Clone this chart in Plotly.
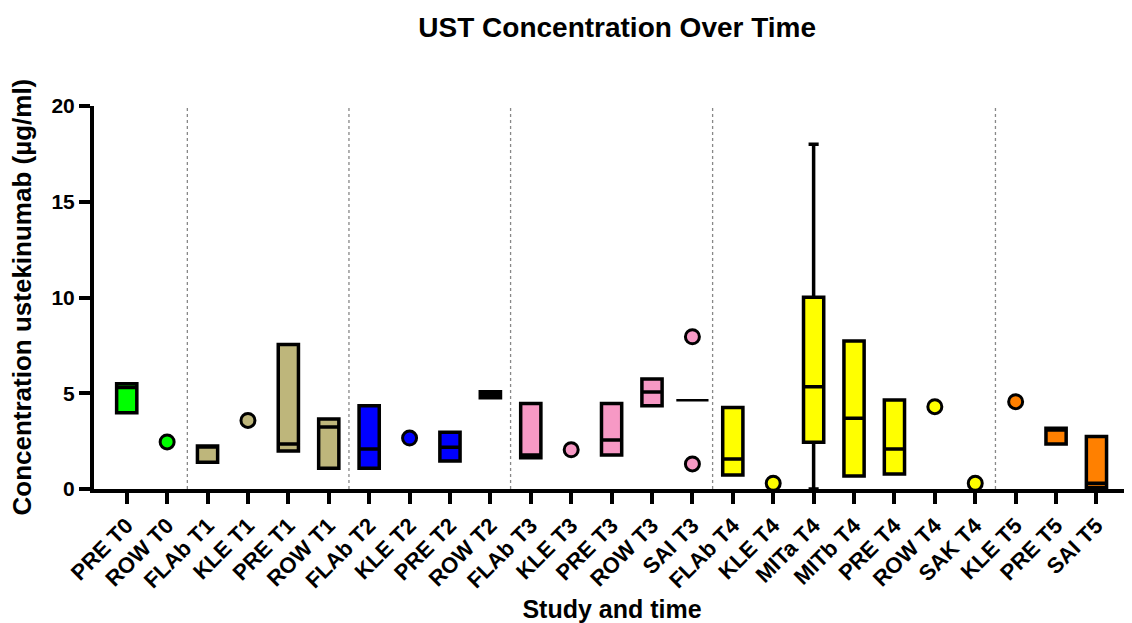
import plotly.graph_objects as go

# ---------------- data ----------------
categories = ["PRE T0", "ROW T0", "FLAb T1", "KLE T1", "PRE T1", "ROW T1",
              "FLAb T2", "KLE T2", "PRE T2", "ROW T2", "FLAb T3", "KLE T3",
              "PRE T3", "ROW T3", "SAI T3", "FLAb T4", "KLE T4", "MITa T4",
              "MITb T4", "PRE T4", "ROW T4", "SAK T4", "KLE T5", "PRE T5", "SAI T5"]

time_colors = {"T0": "#00FF00", "T1": "#BEB67B", "T2": "#0000FF",
               "T3": "#F799C5", "T4": "#FFFF00", "T5": "#FF8000"}

box_cats = ["PRE T0", "FLAb T1", "PRE T1", "ROW T1", "FLAb T2", "PRE T2", "ROW T2",
            "FLAb T3", "PRE T3", "ROW T3", "FLAb T4", "MITa T4", "MITb T4", "PRE T4",
            "PRE T5", "SAI T5"]
box_min    = [3.98, 1.40, 1.98, 1.08, 1.08, 1.46, 4.76, 1.63, 1.78, 4.35, 0.73, 0.00, 0.68, 0.78, 2.35, 0.08]
box_q1     = [3.98, 1.40, 1.98, 1.08, 1.08, 1.46, 4.76, 1.63, 1.78, 4.35, 0.73, 2.44, 0.68, 0.78, 2.35, 0.08]
box_median = [5.30, 2.25, 2.35, 3.24, 2.09, 2.18, 4.92, 1.78, 2.56, 5.07, 1.57, 5.34, 3.69, 2.09, 3.08, 0.30]
box_q3     = [5.49, 2.25, 7.55, 3.65, 4.35, 2.96, 5.08, 4.47, 4.47, 5.74, 4.25, 10.01, 7.73, 4.65, 3.17, 2.74]
box_max    = [5.49, 2.25, 7.55, 3.65, 4.35, 2.96, 5.08, 4.47, 4.47, 5.74, 4.25, 18.00, 7.73, 4.65, 3.17, 2.74]

point_cats = ["ROW T0", "KLE T1", "KLE T2", "KLE T3", "SAI T3", "SAI T3",
              "KLE T4", "ROW T4", "SAK T4", "KLE T5"]
point_vals = [2.46, 3.58, 2.66, 2.05, 7.95, 1.31, 0.30, 4.30, 0.30, 4.56]

median_line_cats = ["SAI T3"]
median_line_vals = [4.63]

title_text = "UST Concentration Over Time"
x_title = "Study and time"
y_title = "Concentration ustekinumab (µg/ml)"
y_ticks = [0, 5, 10, 15, 20]

# ---------------- figure ----------------
FONT = "Liberation Sans, Arial, Helvetica, sans-serif"
W, H = 1124, 615  # page body has an 8px default margin
ML, MR, MT, MB = 86, 2, 98, 134


def tcolor(cat):
    return time_colors[cat.split()[-1]]


fig = go.Figure()

for i, c in enumerate(box_cats):
    fig.add_trace(go.Box(
        x=[c], q1=[box_q1[i]], median=[box_median[i]], q3=[box_q3[i]],
        lowerfence=[box_min[i]], upperfence=[box_max[i]],
        fillcolor=tcolor(c), line=dict(color="black", width=3.5),
        width=0.5, whiskerwidth=0.5, boxpoints=False, showlegend=False,
        hoverinfo="skip",
    ))

fig.add_trace(go.Scatter(
    x=point_cats, y=point_vals, mode="markers",
    marker=dict(size=14, color=[tcolor(c) for c in point_cats],
                line=dict(color="black", width=3)),
    showlegend=False, hoverinfo="skip", cliponaxis=False,
))

fig.add_trace(go.Scatter(
    x=median_line_cats, y=median_line_vals, mode="markers",
    marker=dict(symbol="line-ew", size=23, color="black",
                line=dict(color="black", width=2.5)),
    showlegend=False, hoverinfo="skip",
))

# dotted separators between time points
times = [c.split()[-1] for c in categories]
for i in range(1, len(categories)):
    if times[i] != times[i - 1]:
        fig.add_shape(type="line", xref="x", yref="y", x0=i - 0.5, x1=i - 0.5,
                      y0=0, y1=20, line=dict(color="#888888", width=1.3, dash="dot"),
                      layer="below")

plot_w = W - ML - MR
fig.add_annotation(
    text=y_title, textangle=-90, xref="paper", yref="paper",
    x=-(ML + 8 - 21) / plot_w, y=0.5, xanchor="center", yanchor="middle",
    showarrow=False, font=dict(family=FONT, size=26, color="black", weight="bold"),
)

fig.update_layout(
    width=W, height=H,
    margin=dict(l=ML, r=MR, t=MT, b=MB),
    paper_bgcolor="white", plot_bgcolor="white",
    boxmode="overlay",
    font=dict(family=FONT, color="black", weight="bold"),
    title=dict(text=title_text, x=0.505, xref="paper", y=1 - 19 / H,
               yref="container", xanchor="center", yanchor="middle",
               font=dict(family=FONT, size=28, color="black", weight="bold")),
    xaxis=dict(
        type="category", categoryorder="array", categoryarray=categories,
        range=[-0.81, 24.83], showline=True, linecolor="black", linewidth=4,
        ticks="outside", ticklen=11, tickwidth=4, tickcolor="black",
        tickangle=-45, tickfont=dict(family=FONT, size=22, weight="bold"),
        showgrid=False, zeroline=False, automargin=False,
        title=dict(text=x_title, font=dict(family=FONT, size=25, weight="bold"),
                   standoff=14),
    ),
    yaxis=dict(
        range=[0, 20], tickvals=y_ticks, showline=True, linecolor="black",
        linewidth=4, ticks="outside", ticklen=11, tickwidth=4, tickcolor="black",
        tickfont=dict(family=FONT, size=21, weight="bold"),
        showgrid=False, zeroline=False, automargin=False,
    ),
)

fig.write_html("out.html")
